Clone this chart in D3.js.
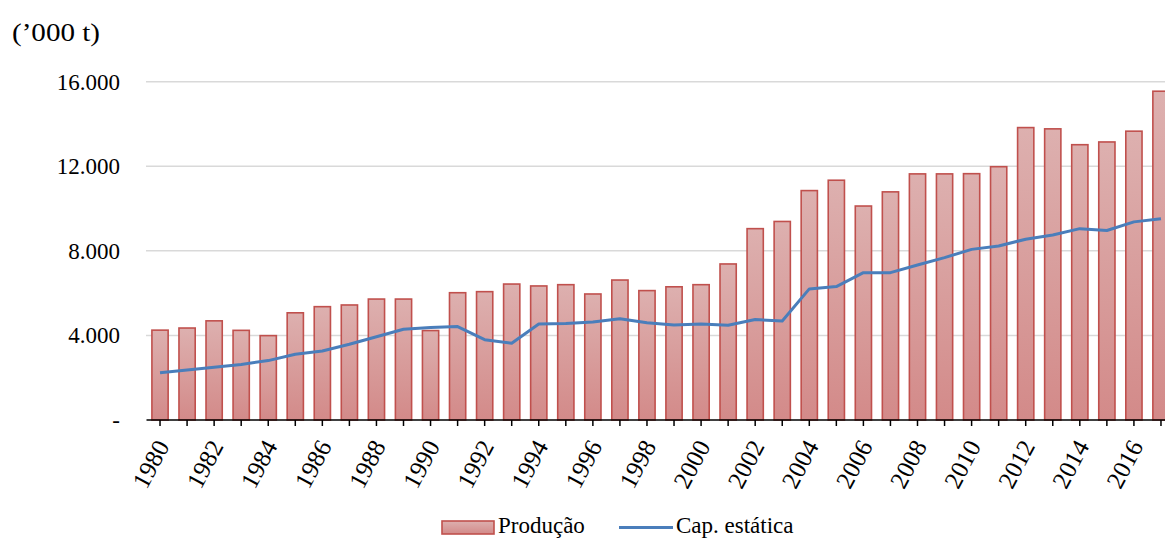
<!DOCTYPE html>
<html>
<head>
<meta charset="utf-8">
<script src="https://cdn.jsdelivr.net/npm/d3@7"></script>
<style>
  html, body { margin: 0; padding: 0; background: #fff; }
</style>
</head>
<body>
<svg id="chart" width="1165" height="538" font-family="'Liberation Serif', 'Times New Roman', Times, serif"></svg>
<script>
// Anos
const years = d3.range(1980, 2018);
// Produção ('000 t)
const producao = [
  4250, 4350, 4690, 4240, 3990, 5070, 5360, 5440, 5720, 5720,
  4230, 6020, 6070, 6430, 6340, 6400, 5960, 6620, 6120, 6300,
  6400, 7380, 9050, 9390, 10850, 11340, 10120, 10790, 11640, 11640,
  11650, 11980, 13830, 13770, 13020, 13150, 13660, 15550
];
// Capacidade estática ('000 t)
const capEstatica = [
  2240, 2370, 2490, 2630, 2810, 3110, 3260, 3580, 3940, 4290,
  4370, 4420, 3800, 3630, 4540, 4560, 4640, 4790, 4600, 4490,
  4540, 4480, 4750, 4680, 6200, 6310, 6970, 6970, 7330, 7680,
  8070, 8230, 8550, 8750, 9050, 8960, 9370, 9520
];
const yTicks = [0, 4000, 8000, 12000, 16000];
const seriesNames = ["Produção", "Cap. estática"];

const FONT = "'Liberation Serif', 'Times New Roman', Times, serif";
const svg = d3.select("#chart");
const x = d3.scaleBand().domain(years).range([146.5, 1174.5]).paddingInner(0.4).paddingOuter(0.2);
const y = d3.scaleLinear().domain([0, 16000]).range([420, 81.7]);

const fmt = v => v === 0 ? "-" : d3.format(",")(v).replace(/,/g, ".");

// gradient for the bars
const defs = svg.append("defs");
const grad = defs.append("linearGradient").attr("id", "barFill")
  .attr("x1", 0).attr("y1", 0).attr("x2", 0).attr("y2", 1);
grad.append("stop").attr("offset", "0%").attr("stop-color", "#ddb0af");
grad.append("stop").attr("offset", "100%").attr("stop-color", "#d38a89");

// gridlines
svg.append("g").selectAll("line").data(yTicks.filter(d => d > 0)).join("line")
  .attr("x1", 146).attr("x2", 1165)
  .attr("y1", d => y(d)).attr("y2", d => y(d))
  .attr("stroke", "#d9d9d9").attr("stroke-width", 1.5);

// y labels
svg.append("g").selectAll("text").data(yTicks).join("text")
  .attr("x", 120).attr("y", d => y(d) + 8)
  .attr("text-anchor", "end").attr("font-size", 23).attr("font-family", FONT)
  .text(fmt);

// unit label
svg.append("text").attr("x", 12).attr("y", 41).attr("font-size", 25).attr("font-family", FONT)
  .attr("textLength", 88).attr("lengthAdjust", "spacingAndGlyphs")
  .text("(’000 t)");

// bars
svg.append("g").selectAll("rect").data(years).join("rect")
  .attr("x", d => x(d))
  .attr("y", (d, i) => y(producao[i]))
  .attr("width", x.bandwidth())
  .attr("height", (d, i) => y(0) - y(producao[i]))
  .attr("fill", "url(#barFill)")
  .attr("stroke", "#c0504d").attr("stroke-width", 1.6);

// x axis
const xAxis = svg.append("g");
xAxis.append("line").attr("x1", 146.5).attr("x2", 1165).attr("y1", y(0)).attr("y2", y(0))
  .attr("stroke", "#000").attr("stroke-width", 1.5);
xAxis.selectAll("line.tick").data(years).join("line").attr("class", "tick")
  .attr("x1", d => x(d) + x.bandwidth() / 2).attr("x2", d => x(d) + x.bandwidth() / 2)
  .attr("y1", y(0)).attr("y2", y(0) + 6)
  .attr("stroke", "#000").attr("stroke-width", 1.5);
xAxis.selectAll("text").data(years.filter(d => d % 2 === 0)).join("text")
  .attr("transform", d => `translate(${x(d) + x.bandwidth() / 2 + 10},${y(0) + 26}) rotate(-62)`)
  .attr("text-anchor", "end").attr("font-size", 25).attr("font-family", FONT)
  .text(d => d);

// capacity line
const line = d3.line()
  .x((d, i) => x(years[i]) + x.bandwidth() / 2)
  .y(d => y(d));
svg.append("path").datum(capEstatica).attr("d", line)
  .attr("fill", "none").attr("stroke", "#4a7ebb").attr("stroke-width", 3)
  .attr("stroke-linejoin", "round");

// legend
const lg = svg.append("g");
lg.append("rect").attr("x", 442).attr("y", 521).attr("width", 52).attr("height", 13)
  .attr("fill", "url(#barFill)").attr("stroke", "#c0504d").attr("stroke-width", 1.6);
lg.append("text").attr("x", 498).attr("y", 533).attr("font-size", 23).attr("font-family", FONT).text(seriesNames[0]);
lg.append("line").attr("x1", 619).attr("x2", 673).attr("y1", 527.5).attr("y2", 527.5)
  .attr("stroke", "#4a7ebb").attr("stroke-width", 3);
lg.append("text").attr("x", 676).attr("y", 533).attr("font-size", 23).attr("font-family", FONT).text(seriesNames[1]);
</script>
</body>
</html>
